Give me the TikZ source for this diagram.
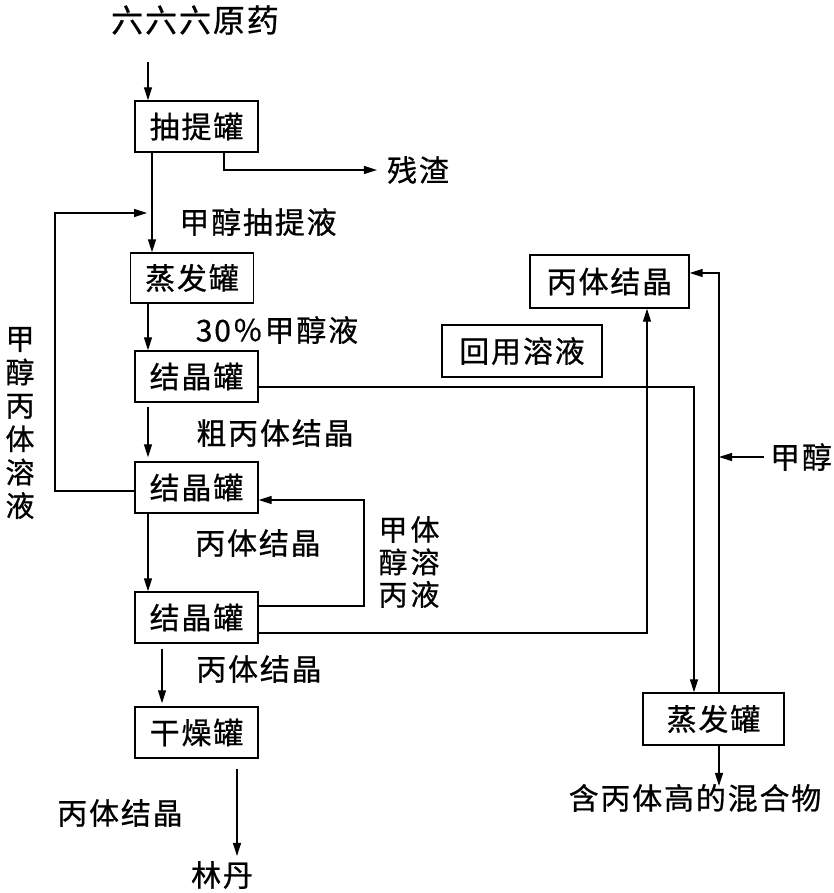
\documentclass[tikz,border=0pt]{standalone}
\usepackage{fontspec}
\setmainfont{Noto Sans CJK SC}[FakeBold=0.7,LetterSpace=6]
\usetikzlibrary{arrows.meta,calc}
\begin{document}
\begin{tikzpicture}[x=1pt,y=-1pt,
  box/.style={draw,line width=1.4pt,inner sep=0pt,font=\fontsize{30}{33}\selectfont},
  lbl/.style={inner sep=0pt,font=\fontsize{30}{33}\selectfont},
  arr/.style={line width=1.3pt,-{Triangle[length=13pt,width=8pt]}}]
\useasboundingbox (0,0) rectangle (834,893);
% nodes
\node[lbl,font=\fontsize{32}{34}\selectfont] (raw) at (195,20) {六六六原药};
\node[box,minimum width=123pt,minimum height=51pt] (cti) at (196.5,126.5) {抽提罐};
\node[lbl] (cz) at (418,170) {残渣};
\node[lbl] (l1) at (258,222) {甲醇抽提液};
\node[box,minimum width=123pt,minimum height=50pt] (zfg1) at (192,278) {蒸发罐};
\node[lbl] (l2) at (277,330) {30％甲醇液};
\node[box,minimum width=123pt,minimum height=51pt] (jj1) at (196.5,376.5) {结晶罐};
\node[lbl] (l3) at (275,433) {粗丙体结晶};
\node[box,minimum width=123pt,minimum height=51pt] (jj2) at (196.5,487.5) {结晶罐};
\node[lbl] (l4) at (258,543) {丙体结晶};
\node[box,minimum width=123pt,minimum height=51pt] (jj3) at (196.5,617.5) {结晶罐};
\node[lbl] (l5) at (259,669) {丙体结晶};
\node[box,minimum width=123pt,minimum height=51pt] (gzg) at (196.5,732.5) {干燥罐};
\node[lbl] (l6) at (120,813) {丙体结晶};
\node[lbl] (ld) at (222,875) {林丹};
\node[lbl,align=center,font=\fontsize{29}{33.4}\selectfont] (vl) at (20,423) {甲\\醇\\丙\\体\\溶\\液};
\node[lbl,align=center,font=\fontsize{29}{32.5}\selectfont] (vr) at (409,562) {甲\hspace{3pt}体\\醇\hspace{3pt}溶\\丙\hspace{3pt}液};
\node[box,minimum width=159pt,minimum height=53pt] (btjj) at (609.5,281.5) {丙体结晶};
\node[box,minimum width=160pt,minimum height=52pt] (hyry) at (522,351) {回用溶液};
\node[lbl] (jc) at (801,457) {甲醇};
\node[box,minimum width=141pt,minimum height=52pt] (zfg2) at (713.5,719) {蒸发罐};
\node[lbl] (mix) at (695,798) {含丙体高的混合物};
% helper coordinates
\coordinate (xA) at (152,0);
\coordinate (xB) at (148,0);
\coordinate (xC) at (224,0);
\coordinate (xD) at (162,0);
\coordinate (xE) at (237,0);
\coordinate (xF) at (647,0);
\coordinate (xG) at (694,0);
\coordinate (xH) at (719,0);
\coordinate (xL) at (55,0);
\coordinate (top) at (148,62);
\coordinate (lpt) at (147,213);
\coordinate (r1) at (364,606);
\coordinate (r2) at (364,500);
\coordinate (r3) at (647,633);
\coordinate (r4) at (694,387);
\coordinate (r5) at (719,273);
\coordinate (r6) at (135,491);
% connectors
\draw[arr] (top) -- (cti.north -| top);
\draw[arr] (cti.south -| xA) -- (zfg1.north -| xA);
\draw[arr] (cti.south -| xC) |- ([xshift=-10pt]cz.west);
\draw[arr] (r6) -| (xL |- lpt) -- (lpt);
\draw[arr] (zfg1.south -| xB) -- (jj1.north -| xB);
\draw[arr,shorten <=4pt,shorten >=4pt] (jj1.south -| xB) -- (jj2.north -| xB);
\draw[arr] (jj2.south -| xB) -- (jj3.north -| xB);
\draw[arr,shorten <=5pt,shorten >=3pt] (jj3.south -| xD) -- (gzg.north -| xD);
\draw[arr,shorten <=10pt,shorten >=5pt] (gzg.south -| xE) -- (ld.north -| xE);
\draw[arr] (jj3.east |- r1) -- (r1) -- (r2) -- (jj2.east |- r2);
\draw[arr] (jj3.east |- r3) -| (btjj.south -| xF);
\draw[arr] (jj1.east |- r4) -| (zfg2.north -| xG);
\draw[arr] (zfg2.north -| xH) |- (btjj.east |- r5);
\draw[arr] ([xshift=-6pt]jc.west) -- (jc.west -| xH);
\draw[arr] (zfg2.south -| xH) -- ([yshift=-2pt]mix.north -| xH);
\end{tikzpicture}
\end{document}
